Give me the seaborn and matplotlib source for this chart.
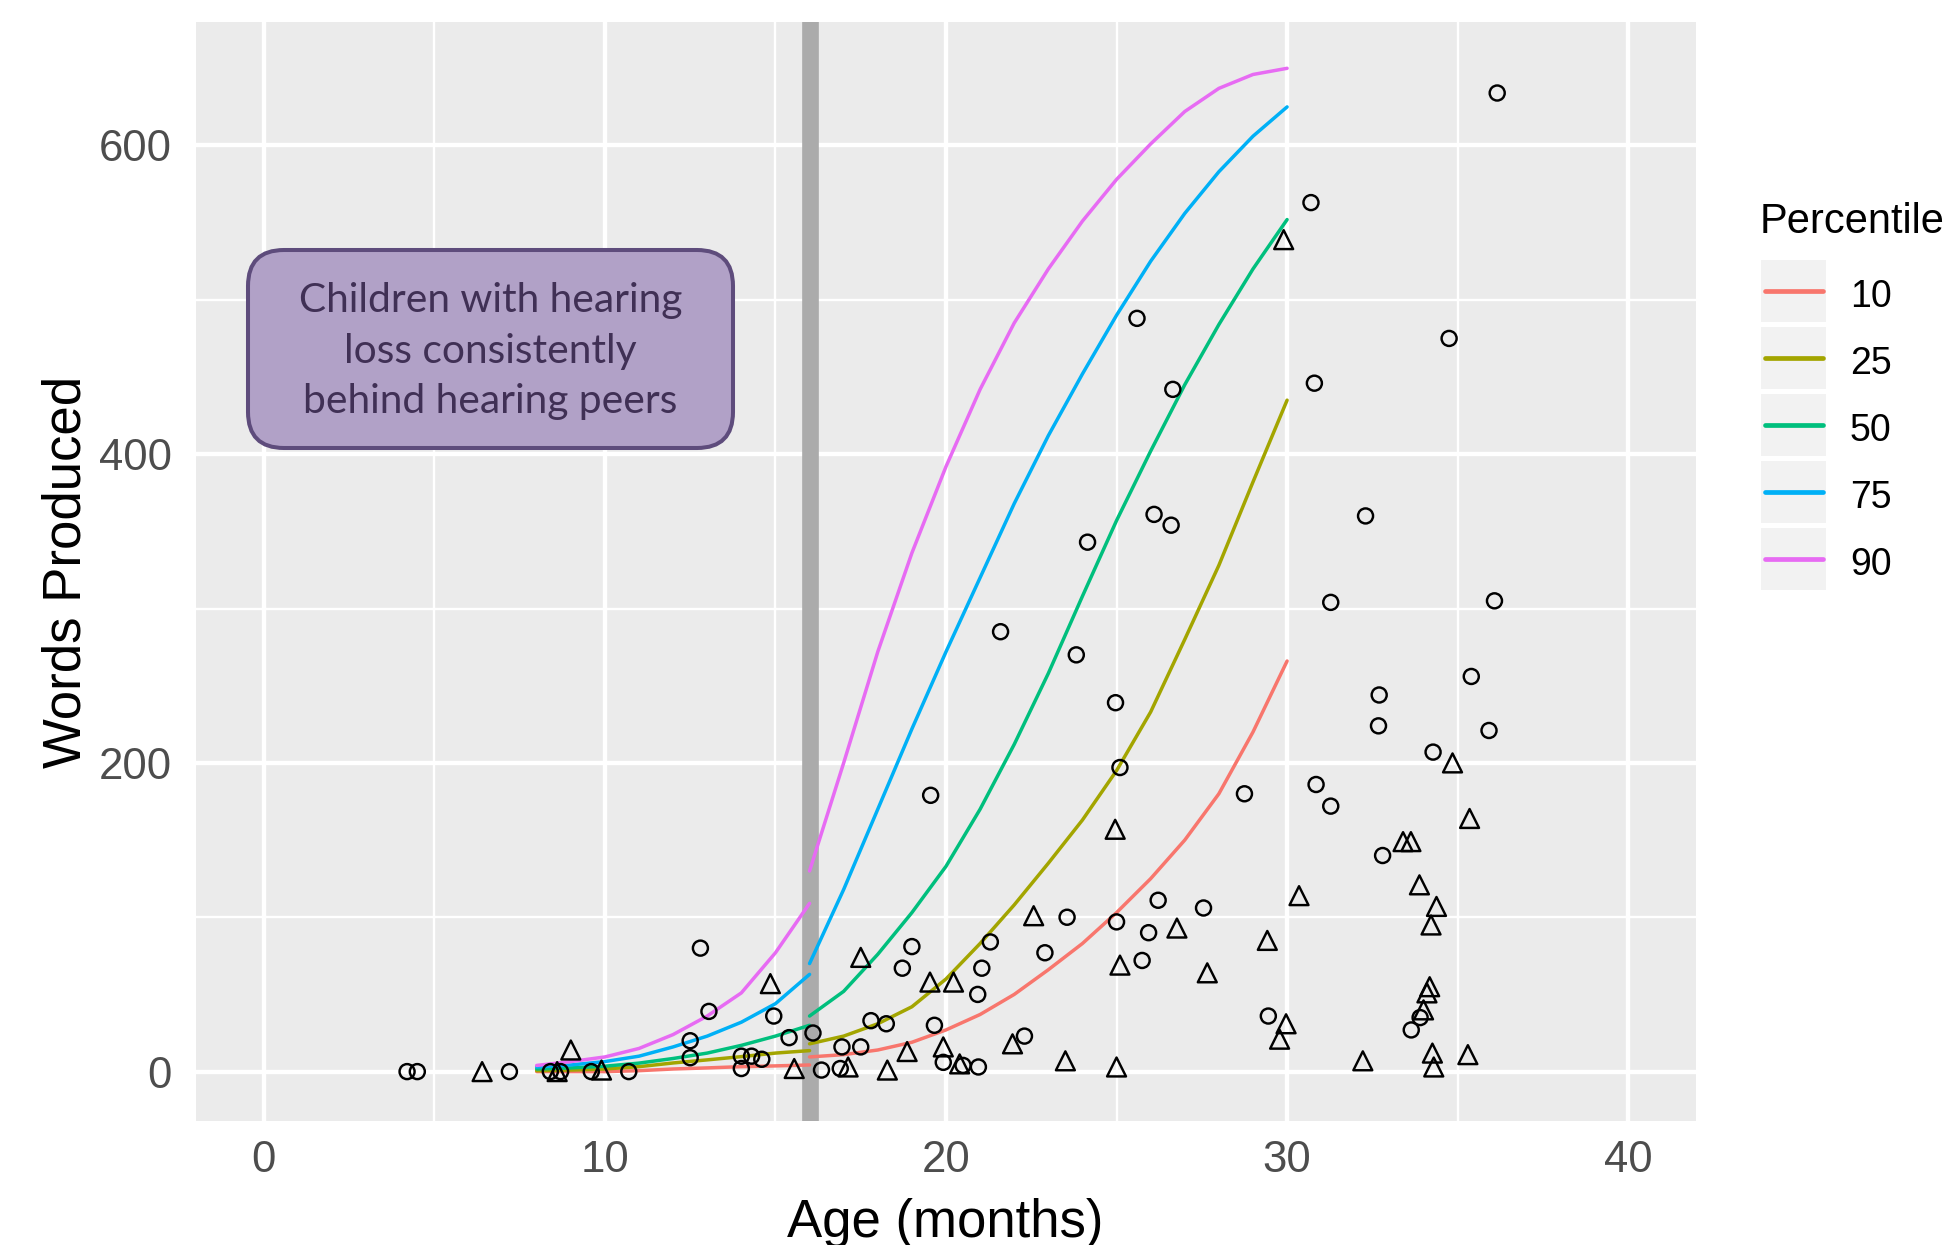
import numpy as np
import pandas as pd
import matplotlib
matplotlib.use("Agg")
import matplotlib.pyplot as plt
import seaborn as sns
from matplotlib.patches import FancyBboxPatch, Rectangle
from matplotlib.lines import Line2D
from matplotlib.transforms import IdentityTransform

# ---------------- data ----------------
percentiles = ["10", "25", "50", "75", "90"]
pct_colors = ["#F8766D", "#A3A500", "#00BF7D", "#00B0F6", "#E76BF3"]

age_early = [8, 9, 10, 11, 12, 13, 14, 15, 16]
p10_early = [0, 0, 0, 0.6, 1.7, 2.4, 3.2, 3.7, 4.3]
p25_early = [0.6, 1, 1.7, 3.2, 5.6, 7.6, 9.7, 12, 13.6]
p50_early = [1.7, 2.4, 3.5, 5.5, 8.5, 12, 17, 23, 30]
p75_early = [3, 4.3, 6.5, 10, 16, 23, 32, 44, 63]
p90_early = [4, 6.5, 9.5, 15, 24, 36, 51, 77, 109]

age_late = [16, 17, 18, 19, 20, 21, 22, 23, 24, 25, 26, 27, 28, 29, 30]
p10_late = [9.5, 11, 14, 19, 27, 37, 50, 66, 83, 103, 125, 150, 180, 220, 266]
p25_late = [18, 23, 31, 42, 60, 83, 108, 135, 163, 195, 233, 280, 328, 382, 435]
p50_late = [36, 52, 76, 103, 133, 170, 212, 258, 308, 357, 402, 445, 484, 520, 552]
p75_late = [70, 118, 170, 222, 272, 320, 368, 412, 452, 490, 525, 556, 583, 606, 625]
p90_late = [130, 200, 272, 336, 392, 442, 485, 520, 551, 578, 601, 622, 637, 646, 650]

circle_age = [4.2, 4.5, 7.2, 8.4, 8.7, 9.6, 10.7, 12.5, 12.5, 12.8, 13.05, 14.0, 14.3,
              14.0, 14.6, 14.95, 15.4, 16.1, 16.35, 16.9, 16.95, 17.5, 17.8, 18.25,
              18.72, 19.0, 19.55, 19.66, 19.92, 20.5, 20.95, 20.93, 21.05, 21.3, 21.6,
              22.3, 22.9, 23.55, 23.82, 24.15, 24.97, 25.1, 25.0, 25.6, 25.75, 25.94,
              26.1, 26.22, 26.6, 26.65, 27.55, 28.75, 29.45, 30.7, 30.8, 30.85, 31.28,
              31.28, 32.3, 32.7, 32.68, 32.8, 33.64, 33.9, 34.28, 34.75, 35.4, 35.92,
              36.08, 36.16]
circle_words = [0, 0, 0, 0, 0, 0, 0, 20, 9, 80, 39, 10, 10,
                2, 8, 36, 22, 25, 1, 2, 16, 16, 33, 31,
                67, 81, 179, 30, 6, 4, 3, 50, 67, 84, 285,
                23, 77, 100, 270, 343, 239, 197, 97, 488, 72, 90,
                361, 111, 354, 442, 106, 180, 36, 563, 446, 186, 304,
                172, 360, 244, 224, 140, 27, 35, 207, 475, 256, 221,
                305, 634]

tri_age = [6.4, 8.6, 9.0, 9.9, 14.85, 15.55, 17.13, 17.5, 18.28, 18.86, 19.53, 19.92,
           20.22, 20.4, 21.95, 22.57, 23.5, 24.96, 25.0, 25.1, 26.77, 27.66, 29.42,
           29.78, 29.97, 29.9, 30.35, 32.22, 33.4, 33.63, 33.88, 34.0, 34.1, 34.18,
           34.22, 34.38, 34.26, 34.3, 34.85, 35.35, 35.3]
tri_words = [0, 0, 14, 1, 57, 2, 3, 74, 1, 13, 58, 16,
             58, 5, 18, 101, 7, 157, 3, 69, 93, 64, 85,
             21, 31, 539, 114, 7, 149, 149, 121, 40, 51, 55,
             95, 107, 12, 3, 200, 164, 11]

x_ticks = [0, 10, 20, 30, 40]
y_ticks = [0, 200, 400, 600]
annotation_lines = ["Children with hearing", "loss consistently", "behind hearing peers"]
cutoff_age = 16

# ---------------- tables ----------------
early_vals = [p10_early, p25_early, p50_early, p75_early, p90_early]
late_vals = [p10_late, p25_late, p50_late, p75_late, p90_late]
rows = []
for pct, early, late in zip(percentiles, early_vals, late_vals):
    for a, w in zip(age_early, early):
        rows.append((a, w, pct, pct + "_pre"))
    for a, w in zip(age_late, late):
        rows.append((a, w, pct, pct + "_post"))
curves = pd.DataFrame(rows, columns=["age", "words", "Percentile", "segment"])
circles = pd.DataFrame({"age": circle_age, "words": circle_words})
triangles = pd.DataFrame({"age": tri_age, "words": tri_words})
palette = dict(zip(percentiles, pct_colors))

# ---------------- figure ----------------
sns.set_theme(style="darkgrid")
plt.rcParams["font.family"] = ["Liberation Sans", "DejaVu Sans"]

W, H = 1954, 1245
fig = plt.figure(figsize=(W / 100, H / 100), dpi=100)
fig.patch.set_facecolor("white")
ax_l, ax_r, ax_t, ax_b = 195.6, 1696.4, 22.0, 1121.0
ax = fig.add_axes([ax_l / W, (H - ax_b) / H, (ax_r - ax_l) / W, (ax_b - ax_t) / H])
ax.set_facecolor("#EBEBEB")
for s in ax.spines.values():
    s.set_visible(False)

ax.set_xlim(-2, 42)
ax.set_ylim(-32, 680)
ax.set_xticks(x_ticks)
ax.set_yticks(y_ticks)
ax.set_xticks([5, 15, 25, 35], minor=True)
ax.set_yticks([100, 300, 500], minor=True)
ax.set_axisbelow(True)
ax.grid(which="major", color="white", linewidth=3.1)
ax.grid(which="minor", color="white", linewidth=1.7)
ax.tick_params(which="minor", length=0)
ax.tick_params(which="major", length=8.5, width=2.6, color="#333333",
               labelsize=31.5, labelcolor="#4D4D4D")
ax.tick_params(axis="x", pad=5)
ax.tick_params(axis="y", pad=8.7)

ax.axvline(cutoff_age, color="#ABABAB", linewidth=12, zorder=2)

sns.lineplot(data=curves, x="age", y="words", hue="Percentile", hue_order=percentiles,
             units="segment", estimator=None, palette=palette, linewidth=2.5,
             legend=False, ax=ax, zorder=3)

sns.scatterplot(data=circles, x="age", y="words", marker="o", s=117,
                facecolors="none", edgecolor="black", linewidth=1.75, ax=ax, zorder=4)
sns.scatterplot(data=triangles, x="age", y="words", marker="^", s=185,
                facecolors="none", edgecolor="black", linewidth=1.75, ax=ax, zorder=4)

ax.set_xlabel("")
ax.set_ylabel("")

# axis titles
fig.text(945 / W, 8 / H, "Age (months)", fontsize=38, color="black",
         ha="center", va="baseline")
fig.text(81 / W, (H - 572) / H, "Words Produced", fontsize=38, color="black",
         rotation=90, rotation_mode="anchor", ha="center", va="baseline")

# annotation box
box = FancyBboxPatch((248, H - 448), 485, 198,
                     boxstyle="round,pad=0,rounding_size=36",
                     facecolor="#B1A1C7", edgecolor="#5E4C7C", linewidth=2.9,
                     transform=IdentityTransform(), zorder=5)
fig.add_artist(box)
for line, base in zip(annotation_lines, [312, 363, 413]):
    fig.text(490.5 / W, (H - base) / H, line, fontsize=29.3, color="#403055",
             family=["Lato", "DejaVu Sans"], ha="center", va="baseline", zorder=6)

# legend (ggplot-like)
fig.text(1760 / W, (H - 233) / H, "Percentile", fontsize=30, color="black",
         ha="left", va="baseline")
for i, (lab, col) in enumerate(zip(percentiles, pct_colors)):
    top = 260 + 67 * i
    fig.add_artist(Rectangle((1761, H - top - 62), 65, 62, facecolor="#F2F2F2",
                             edgecolor="none", transform=IdentityTransform()))
    cy = H - (top + 31)
    fig.add_artist(Line2D([1765, 1823], [cy, cy], color=col, linewidth=3.4,
                          transform=IdentityTransform()))
    fig.text(1850 / W, (H - (top + 47)) / H, lab, fontsize=27, color="black",
             ha="left", va="baseline")

fig.savefig("out.png", dpi=100)
